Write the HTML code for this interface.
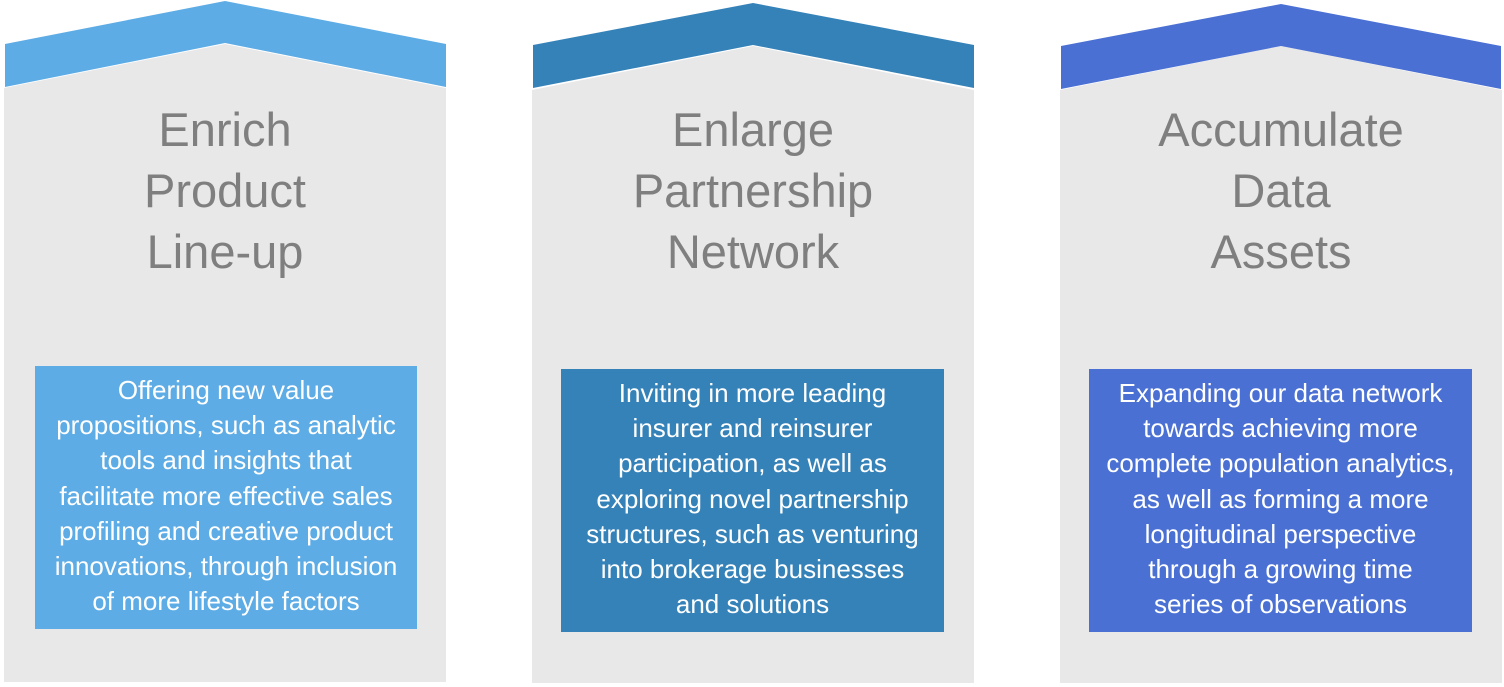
<!DOCTYPE html>
<html><head><meta charset="utf-8"><style>
body{margin:0;width:1504px;height:687px;background:#fff;position:relative;overflow:hidden;font-family:"Liberation Sans",sans-serif}
svg{position:absolute;left:0;top:0}
.t{position:absolute;width:440px;text-align:center;color:#7f7f7f;font-size:47px;line-height:61px;top:99px}
.b{position:absolute;text-align:center;color:#fff;font-size:26px;line-height:35.2px;white-space:nowrap}
</style></head><body>
<svg width="1504" height="687">
<g fill="#e8e8e8">
<polygon points="4,88 225,44 446,88 446,682 4,682"/>
<polygon points="532,90 753,46 974,90 974,683 532,683"/>
<polygon points="1060,90 1281,46 1502,90 1502,683 1060,683"/>
</g>
<polygon fill="#5dace5" points="5,44 225,1 446,44 446,87 225,43 5,87"/>
<polygon fill="#3582b9" points="533,45 753,3 974,45 974,88 753,45 533,88"/>
<polygon fill="#4a70d4" points="1061,46 1281,4 1501,46 1501,89 1281,46 1061,89"/>
<rect x="35" y="366" width="382" height="263" fill="#5dace5"/>
<rect x="561" y="369" width="383" height="263" fill="#3582b9"/>
<rect x="1089" y="369" width="383" height="263" fill="#4a70d4"/>
</svg>
<div class="t" style="left:5px">Enrich<br>Product<br>Line-up</div>
<div class="t" style="left:533px">Enlarge<br>Partnership<br>Network</div>
<div class="t" style="left:1061px">Accumulate<br>Data<br>Assets</div>
<div class="b" style="left:35px;width:382px;top:373px">Offering new value<br>propositions, such as analytic<br>tools and insights that<br>facilitate more effective sales<br>profiling and creative product<br>innovations, through inclusion<br>of more lifestyle factors</div>
<div class="b" style="left:561px;width:383px;top:376px">Inviting in more leading<br>insurer and reinsurer<br>participation, as well as<br>exploring novel partnership<br>structures, such as venturing<br>into brokerage businesses<br>and solutions</div>
<div class="b" style="left:1089px;width:383px;top:376px">Expanding our data network<br>towards achieving more<br>complete population analytics,<br>as well as forming a more<br>longitudinal perspective<br>through a growing time<br>series of observations</div>
</body></html>
